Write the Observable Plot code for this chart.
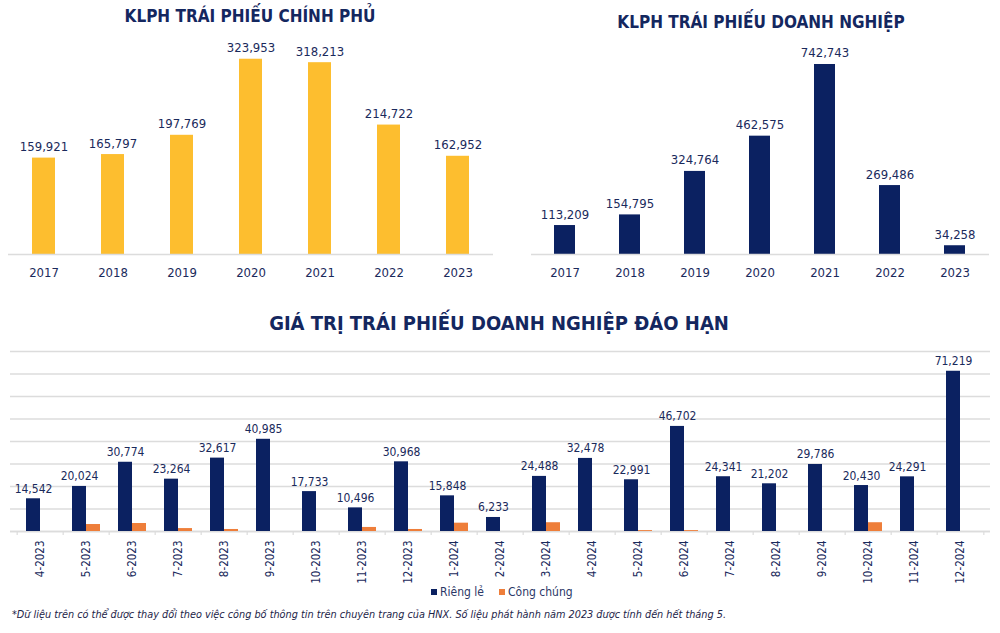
<!DOCTYPE html>
<html><head><meta charset="utf-8">
<script src="https://cdn.jsdelivr.net/npm/d3@7"></script>
<script src="https://cdn.jsdelivr.net/npm/@observablehq/plot@0.6"></script>
<style>
body{margin:0;background:#fff;}
#root{position:relative;width:1000px;height:633px;overflow:hidden;font-family:"DejaVu Sans Condensed","DejaVu Sans",sans-serif;color:#1f2f5e;}
.title{position:absolute;font-weight:bold;color:#14275f;white-space:nowrap;transform:translateX(-50%);line-height:1;}
.chart{position:absolute;}
.legend{position:absolute;font-size:12px;line-height:1;white-space:nowrap;color:#2a3766;}
.sw{display:inline-block;width:6px;height:6px;margin-right:3px;vertical-align:1px;}
.note{position:absolute;left:12px;top:610px;font-size:10.8px;font-style:italic;color:#1d2448;white-space:nowrap;line-height:1;}
</style></head>
<body>
<div id="root">
  <div class="title" id="t1" style="left:250px;top:8px;font-size:17px;">KLPH TRÁI PHIẾU CHÍNH PHỦ</div>
  <div class="title" id="t2" style="left:761px;top:14px;font-size:17px;">KLPH TRÁI PHIẾU DOANH NGHIỆP</div>
  <div class="title" id="t3" style="left:499px;top:313px;font-size:20px;">GIÁ TRỊ TRÁI PHIẾU DOANH NGHIỆP ĐÁO HẠN</div>
  <div class="chart" id="c1" style="left:0;top:0;"></div>
  <div class="chart" id="c2" style="left:500px;top:0;"></div>
  <div class="chart" id="c3" style="left:0;top:335px;"></div>
  <div class="legend" style="left:431px;top:586px;"><span class="sw" style="background:#0b2161"></span>Riêng lẻ</div>
  <div class="legend" style="left:499px;top:586px;"><span class="sw" style="background:#ee7e3a"></span>Công chúng</div>
  <div class="note">*Dữ liệu trên có thể được thay đổi theo việc công bố thông tin trên chuyên trang của HNX. Số liệu phát hành năm 2023 được tính đến hết tháng 5.</div>
</div>
<script>
const years = ["2017","2018","2019","2020","2021","2022","2023"];
const govValues = [159921,165797,197769,323953,318213,214722,162952];
const corpValues = [113209,154795,324764,462575,742743,269486,34258];
const months = ["4-2023","5-2023","6-2023","7-2023","8-2023","9-2023","10-2023","11-2023","12-2023",
  "1-2024","2-2024","3-2024","4-2024","5-2024","6-2024","7-2024","8-2024","9-2024","10-2024","11-2024","12-2024"];
const privateValues = [14542,20024,30774,23264,32617,40985,17733,10496,30968,15848,6233,24488,32478,22991,46702,24341,21202,29786,20430,24291,71219];
const publicValues = [0,3100,3550,1300,900,0,0,1800,900,3700,0,3900,0,400,400,0,0,0,3900,0,0];

const FONT = '"DejaVu Sans Condensed","DejaVu Sans",sans-serif';
const NAVY_TXT = "#1a2a5c";
const fmt = d3.format(",");

function topChart(values, fill, opts) {
  const data = years.map((y, i) => ({year: y, value: values[i]}));
  return Plot.plot({
    width: 500, height: 290,
    marginLeft: opts.ml, marginRight: opts.mr, marginTop: opts.mt, marginBottom: 36,
    x: {domain: years, paddingInner: 0.67, paddingOuter: 0.335, label: null, tickSize: 0, tickPadding: 13},
    y: {domain: [0, opts.ymax], axis: null},
    style: {fontFamily: FONT, fontSize: "13px", color: NAVY_TXT, background: "transparent", overflow: "visible"},
    marks: [
      Plot.barY(data, {x: "year", y: "value", fill}),
      Plot.ruleY([0], {stroke: "#dcdcdc", strokeWidth: 1.5}),
      Plot.text(data, {x: "year", y: "value", text: d => fmt(d.value), lineAnchor: "bottom", dy: -7, fill: NAVY_TXT, fontSize: 13})
    ]
  });
}

document.getElementById("c1").append(topChart(govValues, "#fdbe2f", {ml: 8, mr: 7, mt: 37, ymax: 360000}));
document.getElementById("c2").append(topChart(corpValues, "#0b2161", {ml: 31, mr: 11, mt: 34, ymax: 860000}));

const priv = months.map((m, i) => ({month: m, value: privateValues[i]}));
const pub = months.map((m, i) => ({month: m, value: publicValues[i]})).filter(d => d.value > 0);
const W3 = 1000, ML3 = 10, MR3 = 10;
const step = (W3 - ML3 - MR3) / months.length;
const half = step * 0.3 / 2;

const c3 = Plot.plot({
  width: W3, height: 250,
  marginLeft: ML3, marginRight: MR3, marginTop: 16, marginBottom: 54,
  x: {domain: months, paddingInner: 0.7, paddingOuter: 0.35, label: null},
  y: {domain: [0, 80000], axis: null},
  style: {fontFamily: FONT, fontSize: "11.5px", color: NAVY_TXT, background: "transparent", overflow: "visible"},
  marks: [
    Plot.gridY({interval: 10000, stroke: "#dcdcdc", strokeOpacity: 1, strokeWidth: 1.5}),
    Plot.ruleY([0], {stroke: "#dcdcdc", strokeWidth: 1.5}),
    Plot.ruleX(months, {x: d => d, dx: -step / 2, y1: 0, y2: -1800, stroke: "#dcdcdc", strokeWidth: 1.2}),
    Plot.ruleX([months[months.length - 1]], {x: d => d, dx: step / 2, y1: 0, y2: -1800, stroke: "#dcdcdc", strokeWidth: 1.2}),
    Plot.barY(priv, {x: "month", y: "value", fill: "#0b2161", dx: -half}),
    Plot.barY(pub, {x: "month", y: "value", fill: "#ee7e3a", dx: half}),
    Plot.text(priv, {x: "month", y: "value", text: d => fmt(d.value), dx: -half, dy: -6, lineAnchor: "bottom", fill: NAVY_TXT, fontSize: 12}),
    Plot.axisX({tickRotate: -90, tickSize: 0, tickPadding: 9, fontSize: 11.5, fill: NAVY_TXT})
  ]
});
document.getElementById("c3").append(c3);
</script>
</body></html>
